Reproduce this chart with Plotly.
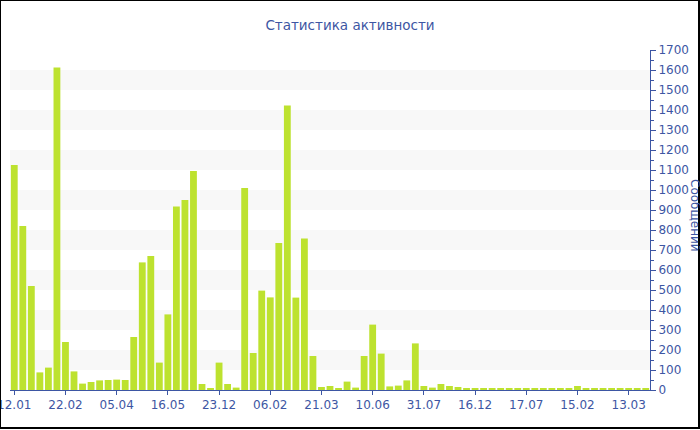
import plotly.graph_objects as go

# ---- data ----
values = [1125, 820, 520, 88, 112, 1612, 240, 93, 32, 40, 48, 50, 52, 50, 265,
          638, 670, 137, 378, 917, 950, 1095, 30, 10, 137, 30, 12, 1010, 185, 497,
          463, 735, 1423, 462, 758, 170, 15, 20, 10, 42, 12, 170, 327, 182, 18,
          22, 48, 233, 20, 12, 30, 20, 15, 10, 10, 8, 10, 7, 8, 7,
          7, 6, 7, 6, 7, 6, 20, 6, 7, 6, 6, 6, 7, 6, 6]
tick_labels = ["12.01", "22.02", "05.04", "16.05", "23.12", "06.02", "21.03",
               "10.06", "31.07", "16.12", "17.07", "15.02", "13.03"]
tick_step = 6
band_starts = [100, 300, 500, 700, 900, 1100, 1300, 1500]
band_height = 100

title_text = "Статистика активности"
y_title = "Сообщений"

# ---- style ----
W, H = 700, 430
ML, MR, MT, MB = 10, 50, 50, 40
PW, PH = W - ML - MR, H - MT - MB
blue = "#3d56a3"
bar_color = "#bde22f"
font_family = "DejaVu Sans"

def px_x(p):
    return (p - ML) / PW

def px_y(p):
    return (H - MB - p) / PH

x = list(range(len(values)))
tickvals = list(range(0, len(values), tick_step))[:len(tick_labels)]

fig = go.Figure(go.Bar(
    x=x, y=values,
    marker=dict(color=bar_color, line=dict(width=0)),
    hoverinfo="skip",
))

shapes = []
for b in band_starts:
    shapes.append(dict(type="rect", xref="paper", yref="y", x0=0, x1=1,
                       y0=b, y1=b + band_height, fillcolor="#f8f8f8",
                       line=dict(width=0), layer="below"))
shapes.append(dict(type="rect", xref="paper", yref="paper",
                   x0=px_x(0), x1=px_x(699), y0=px_y(428), y1=px_y(0),
                   line=dict(color="black", width=2), fillcolor="rgba(0,0,0,0)",
                   layer="above"))

fig.update_layout(
    width=W, height=H,
    margin=dict(l=ML, r=MR, t=MT, b=MB),
    paper_bgcolor="white", plot_bgcolor="white",
    font=dict(family=font_family, size=12, color=blue),
    title=dict(text=title_text, x=0.5, xanchor="center", y=1 - 25 / H,
               yanchor="middle", font=dict(size=13.5, color=blue, family=font_family)),
    bargap=0.2,
    showlegend=False,
    shapes=shapes,
    xaxis=dict(
        range=[-0.5, len(values) - 0.5],
        tickmode="array", tickvals=tickvals, ticktext=tick_labels,
        ticks="outside", ticklen=4, tickcolor=blue, tickwidth=1,
        showline=True, linecolor=blue, linewidth=1,
        showgrid=False, zeroline=False, automargin=False,
        ticklabeloverflow="allow",
        tickfont=dict(size=12, color=blue),
    ),
    yaxis=dict(
        side="right", range=[0, 1700], dtick=100, tick0=0,
        ticks="outside", ticklen=5, tickcolor=blue, tickwidth=1,
        showline=True, linecolor=blue, linewidth=1,
        showgrid=False, zeroline=False, automargin=False,
        ticklabeloverflow="allow",
        tickfont=dict(size=12, color=blue),
        minor=dict(dtick=50, ticks="outside", ticklen=3, tickcolor=blue, showgrid=False),
    ),
    annotations=[dict(text=y_title, xref="paper", yref="paper",
                      x=px_x(695), y=px_y(215), textangle=90, showarrow=False,
                      xanchor="center", yanchor="middle",
                      font=dict(size=12, color=blue, family=font_family))],
)

fig.write_html("out.html", config={"displayModeBar": False},
               post_script="document.body.style.margin='0';")
